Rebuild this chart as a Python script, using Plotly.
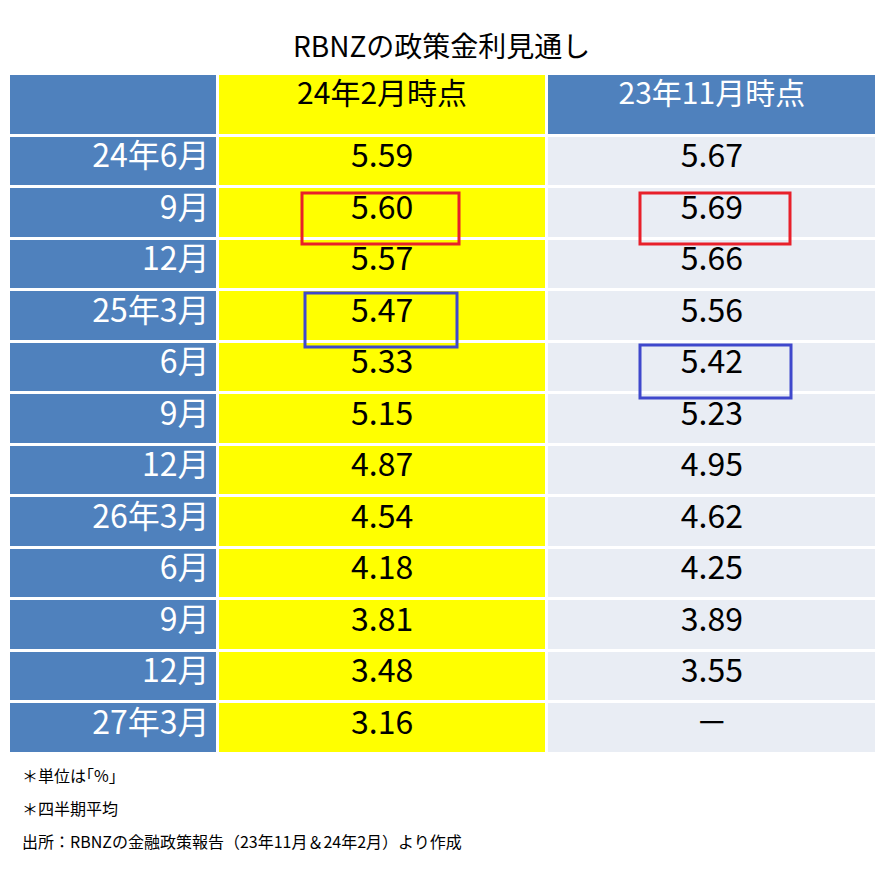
import plotly.graph_objects as go

periods = ["24年6月", "9月", "12月", "25年3月", "6月", "9月", "12月",
           "26年3月", "6月", "9月", "12月", "27年3月"]
feb24 = ["5.59", "5.60", "5.57", "5.47", "5.33", "5.15", "4.87",
         "4.54", "4.18", "3.81", "3.48", "3.16"]
nov23 = ["5.67", "5.69", "5.66", "5.56", "5.42", "5.23", "4.95",
         "4.62", "4.25", "3.89", "3.55", "－"]
headers = ["", "24年2月時点", "23年11月時点"]
notes = ["＊単位は｢%｣", "＊四半期平均", "出所：RBNZの金融政策報告（23年11月＆24年2月）より作成"]

# page body has an 8px margin, so work in shifted pixel coords
OFF = 8
W, H = 883, 874
BLUE = "#4F81BD"
YELLOW = "#FFFF00"
PALE = "#E9EDF4"
FONT = "Noto Sans CJK JP"


def px(x):
    return (x - OFF) / W


def py(y):
    return 1 - (y - OFF) / H


fig = go.Figure(go.Table(
    domain=dict(x=[0.0, px(877)], y=[0.0, py(73)]),
    columnwidth=[208, 327, 328],
    header=dict(
        values=headers,
        fill_color=[BLUE, YELLOW, BLUE],
        font=dict(family=FONT, size=30, color=["white", "black", "white"]),
        line=dict(color="white", width=3),
        align="center",
        height=62,
    ),
    cells=dict(
        values=[periods, feb24, nov23],
        fill_color=[BLUE, YELLOW, PALE],
        font=dict(family=FONT, size=32, color=["white", "black", "black"]),
        line=dict(color="white", width=3),
        align=["right", "center", "center"],
        height=51.5,
    ),
))


def box(x0, x1, y0, y1, color):
    fig.add_shape(type="rect", xref="paper", yref="paper",
                  x0=px(x0), x1=px(x1), y0=py(y1), y1=py(y0),
                  line=dict(color=color, width=3))


box(302, 459, 193, 244, "#E8202A")
box(640, 790, 193, 244, "#E8202A")
box(305, 457, 293, 347, "#3F48CC")
box(640, 791, 345, 398, "#3F48CC")

fig.add_annotation(text="RBNZの政策金利見通し", x=px(441), y=py(45), xref="paper", yref="paper",
                   yanchor="middle", showarrow=False, font=dict(family=FONT, size=28, color="black"))
for i, note in enumerate(notes):
    fig.add_annotation(text=note, x=px(20), y=py(775 + 33 * i), xref="paper", yref="paper",
                       xanchor="left", yanchor="middle", showarrow=False,
                       font=dict(family=FONT, size=16, color="black"))

fig.update_layout(width=W, height=H, margin=dict(l=0, r=0, t=0, b=0),
                  paper_bgcolor="white", plot_bgcolor="white")
fig.write_html("out.html")
